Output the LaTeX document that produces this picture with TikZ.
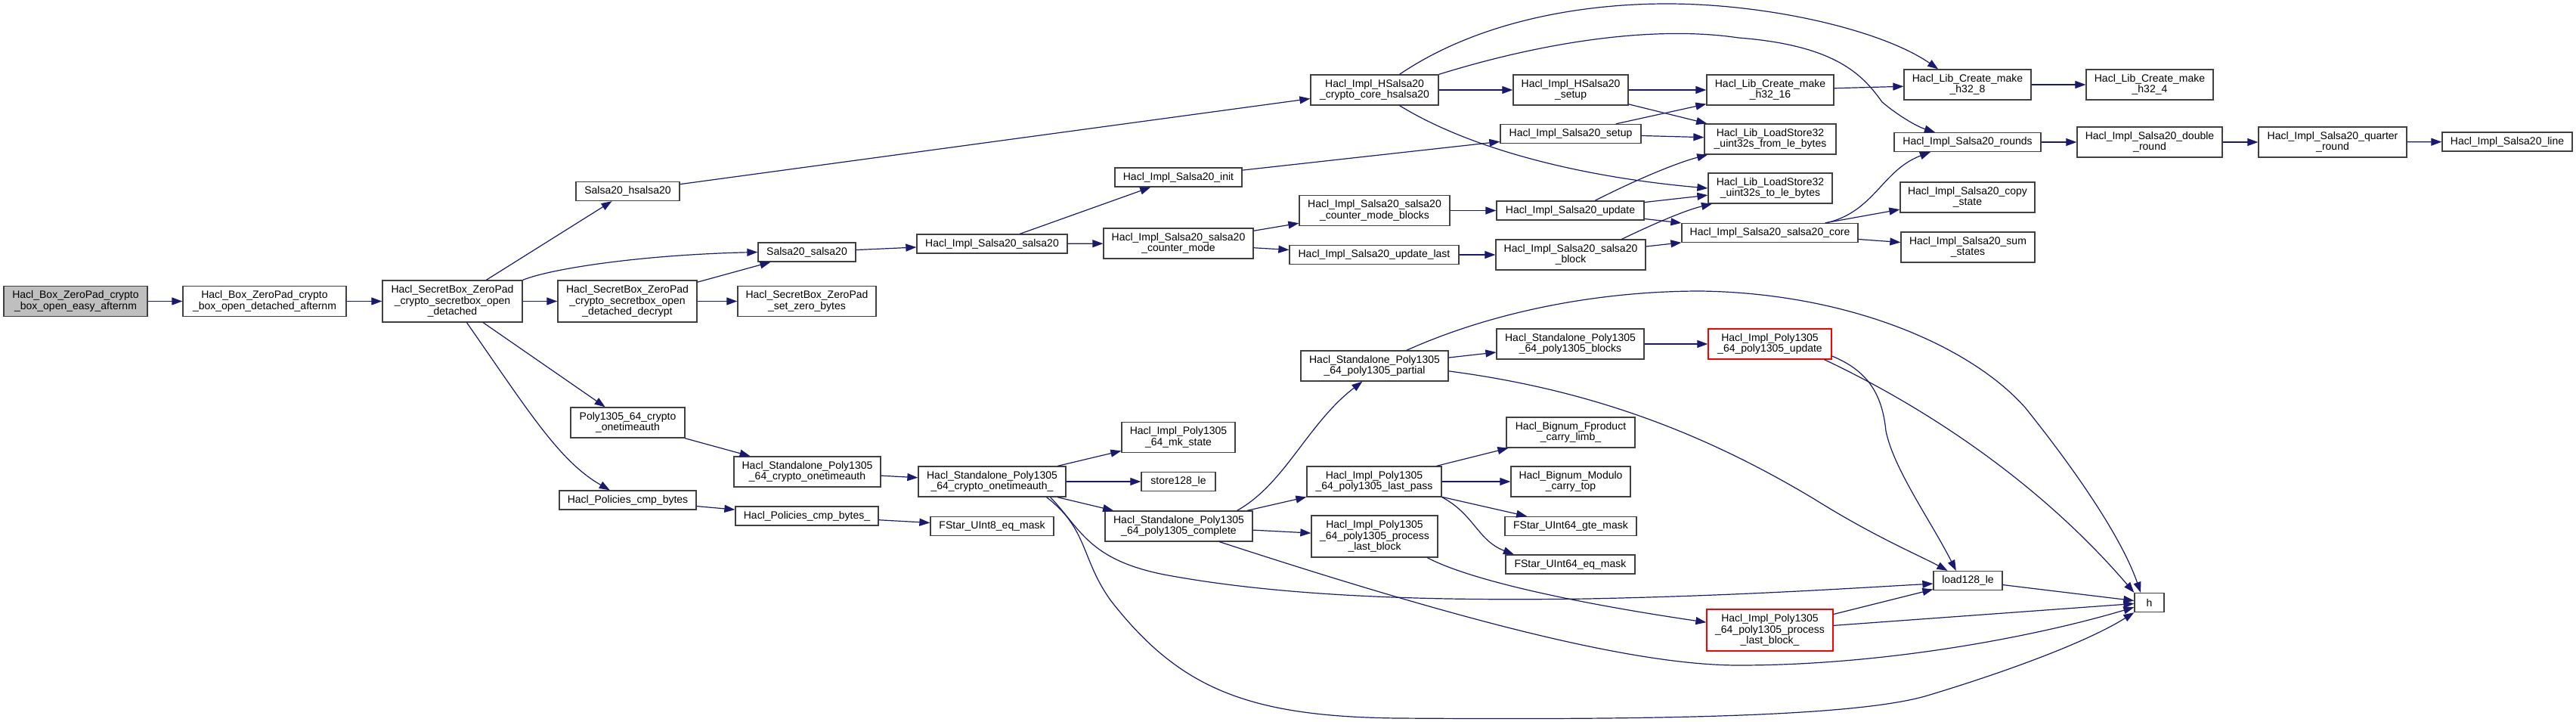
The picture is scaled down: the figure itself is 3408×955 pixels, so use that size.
\documentclass[tikz,border=0pt]{standalone}
\usepackage{fontspec}
\setmainfont{Liberation Sans}
\usetikzlibrary{arrows.meta}
\definecolor{edgeblue}{HTML}{191970}
\definecolor{boxgrey}{HTML}{BFBFBF}

\begin{document}
\begin{tikzpicture}[x=1pt, y=-1pt,
	fn/.style={draw=black!75, fill=white, line width=1.3pt, inner sep=0pt, align=center, font=\fontsize{14}{14.5}\selectfont},
	l1/.style={minimum height=25pt},
	l2/.style={minimum height=40pt},
	l3/.style={minimum height=55pt},
	redbox/.style={draw=red},
	call/.style={draw=edgeblue, line width=1.2pt, -{Triangle[length=14pt, width=10pt]}}]
	\useasboundingbox (0,0) rectangle (3408,955);

	\node[fn, l2, fill=boxgrey, minimum width=190pt] (easyafternm) at (100,398.5) {Hacl\_Box\_ZeroPad\_crypto\\\_box\_open\_easy\_afternm};
	\node[fn, l2, minimum width=216pt] (detafternm) at (350,398.5) {Hacl\_Box\_ZeroPad\_crypto\\\_box\_open\_detached\_afternm};
	\node[fn, l3, minimum width=185pt] (opendet) at (598.5,398.5) {Hacl\_SecretBox\_ZeroPad\\\_crypto\_secretbox\_open\\\_detached};
	\node[fn, l1, minimum width=137pt] (hsalsa) at (830.5,253) {Salsa20\_hsalsa20};
	\node[fn, l1, minimum width=129pt] (ssalsa) at (1067.5,333.5) {Salsa20\_salsa20};
	\node[fn, l3, minimum width=184pt] (opendec) at (830,398.5) {Hacl\_SecretBox\_ZeroPad\\\_crypto\_secretbox\_open\\\_detached\_decrypt};
	\node[fn, l2, minimum width=183pt] (zerobytes) at (1067.5,398.5) {Hacl\_SecretBox\_ZeroPad\\\_set\_zero\_bytes};
	\node[fn, l2, minimum width=151pt] (polyauth) at (830.5,559) {Poly1305\_64\_crypto\\\_onetimeauth};
	\node[fn, l1, minimum width=181pt] (cmpbytes) at (830.5,661.5) {Hacl\_Policies\_cmp\_bytes};
	\node[fn, l2, minimum width=194pt] (saloneauth) at (1068,624) {Hacl\_Standalone\_Poly1305\\\_64\_crypto\_onetimeauth};
	\node[fn, l1, minimum width=189pt] (cmpbytesb) at (1067.5,682.5) {Hacl\_Policies\_cmp\_bytes\_};
	\node[fn, l2, minimum width=169pt] (hcore) at (1818.5,119) {Hacl\_Impl\_HSalsa20\\\_crypto\_core\_hsalsa20};
	\node[fn, l1, minimum width=168pt] (sinit) at (1559,234.5) {Hacl\_Impl\_Salsa20\_init};
	\node[fn, l1, minimum width=199pt] (isalsa) at (1312.5,322.5) {Hacl\_Impl\_Salsa20\_salsa20};
	\node[fn, l2, minimum width=198pt] (cmode) at (1559,322) {Hacl\_Impl\_Salsa20\_salsa20\\\_counter\_mode};
	\node[fn, l2, minimum width=199pt] (cblocks) at (1818.5,278.5) {Hacl\_Impl\_Salsa20\_salsa20\\\_counter\_mode\_blocks};
	\node[fn, l1, minimum width=224pt] (ulast) at (1818,337) {Hacl\_Impl\_Salsa20\_update\_last};
	\node[fn, l2, minimum width=195pt] (saloneautha) at (1312.5,637) {Hacl\_Standalone\_Poly1305\\\_64\_crypto\_onetimeauth\_};
	\node[fn, l1, minimum width=163pt] (ueqmask) at (1312.5,696) {FStar\_UInt8\_eq\_mask};
	\node[fn, l2, minimum width=150pt] (mkstate) at (1559,578.5) {Hacl\_Impl\_Poly1305\\\_64\_mk\_state};
	\node[fn, l1, minimum width=98pt] (store) at (1559,637) {store128\_le};
	\node[fn, l2, minimum width=195pt] (complete) at (1559.5,696) {Hacl\_Standalone\_Poly1305\\\_64\_poly1305\_complete};
	\node[fn, l2, minimum width=195pt] (partial) at (1818.5,484) {Hacl\_Standalone\_Poly1305\\\_64\_poly1305\_partial};
	\node[fn, l2, minimum width=178pt] (lastpass) at (1818,637) {Hacl\_Impl\_Poly1305\\\_64\_poly1305\_last\_pass};
	\node[fn, l3, minimum width=167pt] (plast) at (1818.5,709.5) {Hacl\_Impl\_Poly1305\\\_64\_poly1305\_process\\\_last\_block};
	\node[fn, l2, minimum width=152pt] (hsetup) at (2078,119) {Hacl\_Impl\_HSalsa20\\\_setup};
	\node[fn, l2, minimum width=168pt] (mksixteen) at (2342,119) {Hacl\_Lib\_Create\_make\\\_h32\_16};
	\node[fn, l1, minimum width=186pt] (ssetup) at (2078,177) {Hacl\_Impl\_Salsa20\_setup};
	\node[fn, l2, minimum width=174pt] (fromle) at (2342,184) {Hacl\_Lib\_LoadStore32\\\_uint32s\_from\_le\_bytes};
	\node[fn, l2, minimum width=164pt] (tole) at (2342,249) {Hacl\_Lib\_LoadStore32\\\_uint32s\_to\_le\_bytes};
	\node[fn, l1, minimum width=195pt] (update) at (2077.5,278.5) {Hacl\_Impl\_Salsa20\_update};
	\node[fn, l2, minimum width=198pt] (sblock) at (2078,337) {Hacl\_Impl\_Salsa20\_salsa20\\\_block};
	\node[fn, l1, minimum width=233pt] (score) at (2341.5,308) {Hacl\_Impl\_Salsa20\_salsa20\_core};
	\node[fn, l2, minimum width=195pt] (pblocks) at (2077.5,455) {Hacl\_Standalone\_Poly1305\\\_64\_poly1305\_blocks};
	\node[fn, l2, redbox, minimum width=163pt] (pupdate) at (2341.5,455) {Hacl\_Impl\_Poly1305\\\_64\_poly1305\_update};
	\node[fn, l2, minimum width=170pt] (carrylimb) at (2078,572) {Hacl\_Bignum\_Fproduct\\\_carry\_limb\_};
	\node[fn, l2, minimum width=158pt] (carrytop) at (2078,637) {Hacl\_Bignum\_Modulo\\\_carry\_top};
	\node[fn, l1, minimum width=174pt] (gtemask) at (2078,696) {FStar\_UInt64\_gte\_mask};
	\node[fn, l1, minimum width=171pt] (eqmask) at (2077.5,746.5) {FStar\_UInt64\_eq\_mask};
	\node[fn, l3, redbox, minimum width=167pt] (plastb) at (2341.5,833.5) {Hacl\_Impl\_Poly1305\\\_64\_poly1305\_process\\\_last\_block\_};
	\node[fn, l2, minimum width=168pt] (mkeight) at (2603,112) {Hacl\_Lib\_Create\_make\\\_h32\_8};
	\node[fn, l2, minimum width=168pt] (mkfour) at (2844,112) {Hacl\_Lib\_Create\_make\\\_h32\_4};
	\node[fn, l1, minimum width=194pt] (rounds) at (2603,188) {Hacl\_Impl\_Salsa20\_rounds};
	\node[fn, l2, minimum width=192pt] (dround) at (2844,188) {Hacl\_Impl\_Salsa20\_double\\\_round};
	\node[fn, l2, minimum width=196pt] (qround) at (3086,188) {Hacl\_Impl\_Salsa20\_quarter\\\_round};
	\node[fn, l1, minimum width=172pt] (sline) at (3317,187.5) {Hacl\_Impl\_Salsa20\_line};
	\node[fn, l2, minimum width=178pt] (copystate) at (2603,261) {Hacl\_Impl\_Salsa20\_copy\\\_state};
	\node[fn, l2, minimum width=177pt] (sumstates) at (2603.5,327) {Hacl\_Impl\_Salsa20\_sum\\\_states};
	\node[fn, l1, minimum width=91pt] (load) at (2603.5,768) {load128\_le};
	\node[fn, l1, minimum width=39pt] (hh) at (2843.5,797) {h};

	\draw[call] (easyafternm) -- (detafternm);
	\draw[call] (detafternm) -- (opendet);
	\draw[call] (opendet) -- (hsalsa);
	\draw[call] (opendet.north east) .. controls (730,355) and (850,337) .. (ssalsa.west);
	\draw[call] (opendet) -- (opendec);
	\draw[call] (opendet) -- (polyauth);
	\draw[call] (opendet.-56) .. controls (700,545) and (740,610) .. (cmpbytes.151);
	\draw[call] (opendec) -- (ssalsa);
	\draw[call] (opendec) -- (zerobytes);
	\draw[call] (hsalsa) -- (hcore);
	\draw[call] (ssalsa) -- (isalsa);
	\draw[call] (isalsa) -- (sinit);
	\draw[call] (isalsa) -- (cmode);
	\draw[call] (sinit) -- (ssetup);
	\draw[call] (cmode) -- (cblocks);
	\draw[call] (cmode) -- (ulast);
	\draw[call] (cblocks) -- (update);
	\draw[call] (ulast) -- (sblock);
	\draw[call] (hcore) -- (hsetup);
	\draw[call] (hcore.32) .. controls (1960,25) and (2100,5) .. (2205,5) .. controls (2340,5) and (2490,40) .. (mkeight.152);
	\draw[call] (hcore.north east) .. controls (2060,50) and (2200,35) .. (2300,50) .. controls (2430,60) and (2465,100) .. (2490,135) .. controls (2510,152) and (2535,167) .. (rounds.163);
	\draw[call] (hcore.-32) .. controls (1950,200) and (2100,235) .. (tole.west);
	\draw[call] (hsetup) -- (mksixteen);
	\draw[call] (hsetup) -- (fromle);
	\draw[call] (ssetup) -- (mksixteen);
	\draw[call] (ssetup) -- (fromle);
	\draw[call] (mksixteen) -- (mkeight);
	\draw[call] (mkeight) -- (mkfour);
	\draw[call] (update.22) .. controls (2170,235) and (2220,215) .. (fromle.-166);
	\draw[call] (update) -- (tole);
	\draw[call] (update) -- (score);
	\draw[call] (sblock.17) .. controls (2190,295) and (2230,278) .. (tole.-165);
	\draw[call] (sblock) -- (score);
	\draw[call] (score.10) .. controls (2480,280) and (2490,225) .. (rounds.-165);
	\draw[call] (score) -- (copystate);
	\draw[call] (score) -- (sumstates);
	\draw[call] (rounds) -- (dround);
	\draw[call] (dround) -- (qround);
	\draw[call] (qround) -- (sline);
	\draw[call] (polyauth) -- (saloneauth);
	\draw[call] (saloneauth) -- (saloneautha);
	\draw[call] (cmpbytes) -- (cmpbytesb);
	\draw[call] (cmpbytesb) -- (ueqmask);
	\draw[call] (saloneautha) -- (mkstate);
	\draw[call] (saloneautha) -- (store);
	\draw[call] (saloneautha) -- (complete);
	\draw[call] (saloneautha.-15) .. controls (1430,700) and (1440,740) .. (1540,760) .. controls (1700,790) and (1900,795) .. (2100,792) .. controls (2300,788) and (2450,778) .. (load.185);
	\draw[call] (saloneautha.-16) .. controls (1440,700) and (1430,740) .. (1470,795) .. controls (1560,910) and (1650,948) .. (1850,950) .. controls (2150,952) and (2450,950) .. (2550,920) .. controls (2650,890) and (2760,850) .. (hh.south west);
	\draw[call] (complete.15) .. controls (1700,640) and (1730,560) .. (partial.-128);
	\draw[call] (complete) -- (lastpass);
	\draw[call] (complete) -- (plast);
	\draw[call] (complete.-21) .. controls (1900,810) and (2150,880) .. (2300,880) .. controls (2500,880) and (2700,840) .. (hh.-163);
	\draw[call] (partial) -- (pblocks);
	\draw[call] (partial.26) .. controls (1980,410) and (2120,385) .. (2250,385) .. controls (2450,388) and (2610,460) .. (2680,540) .. controls (2760,640) and (2810,720) .. (hh.131);
	\draw[call] (partial.-4) .. controls (2100,515) and (2250,570) .. (2400,660) .. controls (2480,710) and (2540,735) .. (load.154);
	\draw[call] (pblocks) -- (pupdate);
	\draw[call] (pupdate.-11) .. controls (2470,490) and (2490,520) .. (2495,570) .. controls (2505,620) and (2555,690) .. (load.140);
	\draw[call] (pupdate.-16) .. controls (2550,540) and (2700,640) .. (hh.north west);
	\draw[call] (lastpass) -- (carrylimb);
	\draw[call] (lastpass) -- (carrytop);
	\draw[call] (lastpass) -- (gtemask);
	\draw[call] (lastpass.south east) .. controls (1950,680) and (1955,715) .. (eqmask.170);
	\draw[call] (plast.-22) .. controls (1950,770) and (2100,800) .. (plastb.173);
	\draw[call] (plastb) -- (load);
	\draw[call] (plastb) -- (hh);
	\draw[call] (load) -- (hh);
\end{tikzpicture}
\end{document}
